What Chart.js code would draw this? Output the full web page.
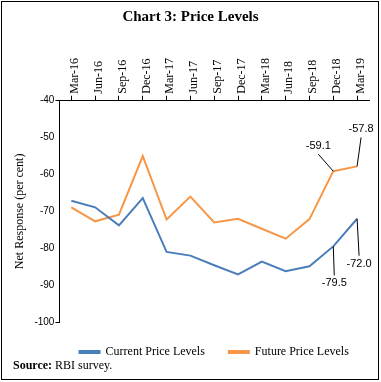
<!DOCTYPE html>
<html>
<head>
<meta charset="utf-8">
<script src="https://cdn.jsdelivr.net/npm/chart.js@4/dist/chart.umd.min.js"></script>
<style>
  body { margin: 0; background: #fff; }
  #frame { position: absolute; left: 1px; top: 1px; width: 378px; height: 379px; border: 1px solid #000; box-sizing: border-box; }
  #title { position: absolute; left: 0; top: 8px; width: 381px; text-align: center; font: bold 15px "Liberation Serif", serif; color: #000; }
  #source { position: absolute; left: 13px; top: 358px; font: 12px "Liberation Serif", serif; color: #000; }
  #wrap { position: absolute; left: 0; top: 0; width: 381px; height: 382px; }
</style>
</head>
<body>
<div id="frame"></div>
<div id="wrap"><canvas id="priceChart"></canvas></div>
<div id="title">Chart 3: Price Levels</div>
<div id="source"><b>Source:</b> RBI survey.</div>
<script>
const quarters = ['Mar-16', 'Jun-16', 'Sep-16', 'Dec-16', 'Mar-17', 'Jun-17', 'Sep-17', 'Dec-17', 'Mar-18', 'Jun-18', 'Sep-18', 'Dec-18', 'Mar-19'];
const currentLevels = [-67.1, -68.9, -73.8, -66.4, -81.0, -82.0, -84.6, -87.1, -83.6, -86.2, -84.9, -79.5, -72.0];
const futureLevels = [-68.9, -72.7, -70.9, -55.0, -72.2, -66.0, -73.0, -72.0, -74.7, -77.4, -72.1, -59.1, -57.8];

// labelled points: dataset, index, label offset from point
const callouts = [
    { ds: 1, idx: 11, text: '-59.1', dx: -15, dy: -25 },
    { ds: 1, idx: 12, text: '-57.8', dx: 4, dy: -37 },
    { ds: 0, idx: 12, text: '-72.0', dx: 2, dy: 45 },
    { ds: 0, idx: 11, text: '-79.5', dx: 1, dy: 37 }
];

const calloutPlugin = {
    id: 'callouts',
    afterDatasetsDraw(chart) {
        const ctx = chart.ctx;
        ctx.save();
        ctx.font = '11px "Liberation Sans", sans-serif';
        ctx.fillStyle = '#000';
        ctx.strokeStyle = '#000';
        ctx.lineWidth = 1;
        ctx.textAlign = 'center';
        ctx.textBaseline = 'middle';
        callouts.forEach(function(c) {
            const pt = chart.getDatasetMeta(c.ds).data[c.idx];
            const lx = pt.x + c.dx;
            const ly = pt.y + c.dy;
            const endY = c.dy < 0 ? ly + 8 : ly - 8;
            ctx.beginPath();
            ctx.moveTo(pt.x, pt.y);
            ctx.lineTo(lx, endY);
            ctx.stroke();
            ctx.fillText(c.text, lx, ly);
        });
        ctx.restore();
    }
};

// legend sits centred under the plot area, not the whole canvas
const legendShift = {
    id: 'legendShift',
    afterLayout(chart) {
        const shift = (chart.chartArea.left + chart.chartArea.right) / 2 - (chart.legend.left + chart.legend.right) / 2;
        chart.legend.left += shift;
        chart.legend.right += shift;
    }
};

const context = document.getElementById('priceChart');

const data = {
    labels: quarters,
    datasets: [
        {
            label: 'Current Price Levels',
            data: currentLevels,
            borderColor: '#4a7ebb',
            backgroundColor: '#4a7ebb',
            borderWidth: 2,
            pointRadius: 0,
            tension: 0
        },
        {
            label: 'Future Price Levels',
            data: futureLevels,
            borderColor: '#f79646',
            backgroundColor: '#f79646',
            borderWidth: 2,
            pointRadius: 0,
            tension: 0
        }
    ]
};

const config = {
    type: 'line',
    data: data,
    plugins: [calloutPlugin, legendShift],
    options: {
        responsive: true,
        maintainAspectRatio: false,
        animation: false,
        layout: { padding: { top: 56, left: 13, right: 12, bottom: 14 } },
        plugins: {
            legend: {
                position: 'bottom',
                labels: {
                    boxWidth: 20,
                    boxHeight: 2,
                    padding: 24,
                    color: '#000',
                    font: { family: '"Liberation Serif", serif', size: 12 }
                }
            },
            tooltip: { enabled: false }
        },
        scales: {
            x: {
                position: 'top',
                offset: true,
                border: { color: '#000', width: 1 },
                grid: { drawOnChartArea: false, drawTicks: true, tickLength: 5, color: '#000', offset: false },
                ticks: {
                    color: '#000',
                    minRotation: 90,
                    maxRotation: 90,
                    padding: 2,
                    labelOffset: 18,
                    font: { family: '"Liberation Serif", serif', size: 12 }
                }
            },
            y: {
                min: -100,
                max: -40,
                border: { color: '#000', width: 1 },
                grid: {
                    drawOnChartArea: false,
                    tickLength: 4,
                    color: function(c) {
                        return (c.tick && (c.tick.value === -40 || c.tick.value === -100)) ? '#000' : 'rgba(0,0,0,0)';
                    }
                },
                ticks: {
                    stepSize: 10,
                    color: '#000',
                    padding: 1,
                    font: { family: '"Liberation Sans", sans-serif', size: 10 }
                },
                title: {
                    display: true,
                    text: 'Net Response (per cent)',
                    color: '#000',
                    padding: { top: 0, bottom: 6 },
                    font: { family: '"Liberation Serif", serif', size: 12 }
                }
            }
        }
    }
};

var priceChart = new Chart(context, config);
</script>
</body>
</html>
